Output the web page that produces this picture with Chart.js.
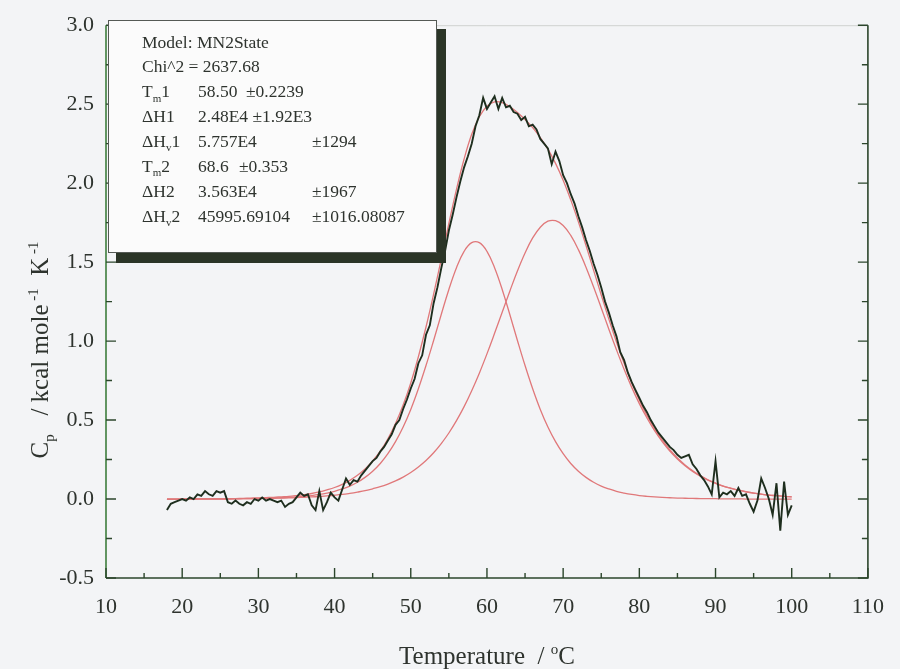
<!DOCTYPE html>
<html>
<head>
<meta charset="utf-8">
<title>MN2State fit</title>
<script src="https://cdn.jsdelivr.net/npm/chart.js@4.4.1/dist/chart.umd.min.js"></script>
<style>
  html, body { margin: 0; padding: 0; background: #f3f4f6; }
  #wrap { width: 900px; height: 669px; }
</style>
</head>
<body>
<div id="wrap"><canvas id="dscChart" width="900" height="669"></canvas></div>
<script>
// Measured scan, 0.5 degree steps
const scanTemps = [
  18, 18.5, 19, 19.5, 20, 20.5, 21, 21.5, 22, 22.5,
  23, 23.5, 24, 24.5, 25, 25.5, 26, 26.5, 27, 27.5,
  28, 28.5, 29, 29.5, 30, 30.5, 31, 31.5, 32, 32.5,
  33, 33.5, 34, 34.5, 35, 35.5, 36, 36.5, 37, 37.5,
  38, 38.5, 39, 39.5, 40, 40.5, 41, 41.5, 42, 42.5,
  43, 43.5, 44, 44.5, 45, 45.5, 46, 46.5, 47, 47.5,
  48, 48.5, 49, 49.5, 50, 50.5, 51, 51.5, 52, 52.5,
  53, 53.5, 54, 54.5, 55, 55.5, 56, 56.5, 57, 57.5,
  58, 58.5, 59, 59.5, 60, 60.5, 61, 61.5, 62, 62.5,
  63, 63.5, 64, 64.5, 65, 65.5, 66, 66.5, 67, 67.5,
  68, 68.5, 69, 69.5, 70, 70.5, 71, 71.5, 72, 72.5,
  73, 73.5, 74, 74.5, 75, 75.5, 76, 76.5, 77, 77.5,
  78, 78.5, 79, 79.5, 80, 80.5, 81, 81.5, 82, 82.5,
  83, 83.5, 84, 84.5, 85, 85.5, 86, 86.5, 87, 87.5,
  88, 88.5, 89, 89.5, 90, 90.5, 91, 91.5, 92, 92.5,
  93, 93.5, 94, 94.5, 95, 95.5, 96, 96.5, 97, 97.5,
  98, 98.5, 99, 99.5, 100
];
const scanCp = [
  -0.07, -0.03, -0.02, -0.01, 0.00, -0.01, 0.01, 0.00, 0.03, 0.02,
  0.05, 0.03, 0.02, 0.05, 0.04, 0.05, -0.02, -0.03, -0.01, -0.03,
  -0.04, -0.02, -0.03, 0.00, -0.01, 0.01, -0.01, 0.00, -0.01, -0.02,
  -0.01, -0.05, -0.03, -0.02, 0.01, 0.04, 0.02, 0.03, -0.04, -0.07,
  0.05, -0.07, -0.02, 0.04, 0.01, -0.01, 0.06, 0.13, 0.09, 0.12,
  0.11, 0.15, 0.18, 0.21, 0.24, 0.26, 0.30, 0.33, 0.37, 0.41,
  0.47, 0.50, 0.57, 0.63, 0.70, 0.76, 0.86, 0.91, 1.04, 1.10,
  1.24, 1.34, 1.46, 1.57, 1.70, 1.80, 1.91, 2.01, 2.10, 2.17,
  2.25, 2.36, 2.43, 2.54, 2.47, 2.51, 2.55, 2.47, 2.54, 2.48,
  2.49, 2.45, 2.44, 2.40, 2.42, 2.36, 2.37, 2.34, 2.28, 2.25,
  2.22, 2.12, 2.20, 2.14, 2.05, 2.00, 1.93, 1.87, 1.79, 1.72,
  1.64, 1.57, 1.49, 1.42, 1.34, 1.25, 1.18, 1.10, 1.03, 0.93,
  0.88, 0.80, 0.74, 0.69, 0.64, 0.59, 0.55, 0.50, 0.46, 0.42,
  0.39, 0.36, 0.33, 0.31, 0.28, 0.26, 0.27, 0.28, 0.22, 0.19,
  0.15, 0.12, 0.08, 0.03, 0.24, 0.01, 0.04, 0.03, 0.05, 0.02,
  0.07, 0.02, 0.03, -0.03, -0.08, -0.01, 0.13, 0.07, 0.00, -0.10,
  0.10, -0.20, 0.11, -0.10, -0.04
];

// Fitted curves, 1 degree steps
const fitTemps = [
  18, 19, 20, 21, 22, 23, 24, 25, 26, 27,
  28, 29, 30, 31, 32, 33, 34, 35, 36, 37,
  38, 39, 40, 41, 42, 43, 44, 45, 46, 47,
  48, 49, 50, 51, 52, 53, 54, 55, 56, 57,
  58, 59, 60, 61, 62, 63, 64, 65, 66, 67,
  68, 69, 70, 71, 72, 73, 74, 75, 76, 77,
  78, 79, 80, 81, 82, 83, 84, 85, 86, 87,
  88, 89, 90, 91, 92, 93, 94, 95, 96, 97,
  98, 99, 100
];
const fitTotal = [
  0, 0, 0, 0, 0.001, 0.001, 0.001, 0.001, 0.001, 0.003,
  0.004, 0.006, 0.007, 0.009, 0.011, 0.014, 0.017, 0.022, 0.028, 0.035,
  0.045, 0.058, 0.073, 0.093, 0.118, 0.150, 0.190, 0.241, 0.303, 0.382,
  0.478, 0.595, 0.735, 0.901, 1.089, 1.297, 1.519, 1.745, 1.961, 2.153,
  2.309, 2.420, 2.487, 2.514, 2.510, 2.484, 2.448, 2.403, 2.351, 2.288,
  2.215, 2.125, 2.019, 1.894, 1.755, 1.605, 1.448, 1.292, 1.139, 0.994,
  0.859, 0.736, 0.626, 0.530, 0.446, 0.374, 0.312, 0.260, 0.216, 0.179,
  0.148, 0.122, 0.101, 0.082, 0.069, 0.057, 0.046, 0.038, 0.031, 0.025,
  0.021, 0.017, 0.014
];
const fitPeak1 = [
  0, 0, 0, 0, 0, 0, 0, 0, 0, 0.001,
  0.002, 0.003, 0.004, 0.005, 0.006, 0.008, 0.010, 0.013, 0.017, 0.022,
  0.029, 0.038, 0.049, 0.064, 0.082, 0.106, 0.137, 0.176, 0.225, 0.287,
  0.363, 0.456, 0.567, 0.698, 0.845, 1.004, 1.168, 1.327, 1.465, 1.568,
  1.623, 1.623, 1.568, 1.465, 1.327, 1.168, 1.004, 0.845, 0.698, 0.567,
  0.456, 0.363, 0.287, 0.225, 0.176, 0.137, 0.106, 0.082, 0.064, 0.049,
  0.038, 0.029, 0.022, 0.017, 0.013, 0.010, 0.008, 0.006, 0.005, 0.004,
  0.003, 0.002, 0.002, 0.001, 0.001, 0.001, 0, 0, 0, 0,
  0, 0, 0
];
const fitPeak2 = [
  0, 0, 0, 0, 0.001, 0.001, 0.001, 0.001, 0.001, 0.002,
  0.002, 0.003, 0.003, 0.004, 0.005, 0.006, 0.007, 0.009, 0.011, 0.013,
  0.016, 0.020, 0.024, 0.029, 0.036, 0.044, 0.053, 0.065, 0.078, 0.095,
  0.115, 0.139, 0.168, 0.203, 0.244, 0.293, 0.351, 0.418, 0.496, 0.585,
  0.686, 0.797, 0.919, 1.049, 1.183, 1.316, 1.444, 1.558, 1.653, 1.721,
  1.759, 1.762, 1.732, 1.669, 1.579, 1.468, 1.342, 1.210, 1.075, 0.945,
  0.821, 0.707, 0.604, 0.513, 0.433, 0.364, 0.304, 0.254, 0.211, 0.175,
  0.145, 0.120, 0.099, 0.081, 0.068, 0.056, 0.046, 0.038, 0.031, 0.025,
  0.021, 0.017, 0.014
];

// Axis ticks
const tempTicks = [10, 20, 30, 40, 50, 60, 70, 80, 90, 100, 110];
const tempMinorTicks = [15, 25, 35, 45, 55, 65, 75, 85, 95, 105];
const cpTicks = [-0.5, 0.0, 0.5, 1.0, 1.5, 2.0, 2.5, 3.0];
const cpMinorTicks = [-0.25, 0.25, 0.75, 1.25, 1.75, 2.25, 2.75];

// Fit report lines: [label, subscript, label tail, value, error, error x]
const fitReport = [
  ["Model: MN2State", "", "", "", "", 0],
  ["Chi^2 = 2637.68", "", "", "", "", 0],
  ["T", "m", "1", "58.50", "\u00b10.2239", 246],
  ["\u0394H1", "", "", "2.48E4 \u00b11.92E3", "", 0],
  ["\u0394H", "v", "1", "5.757E4", "\u00b11294", 312],
  ["T", "m", "2", "68.6", "\u00b10.353", 239],
  ["\u0394H2", "", "", "3.563E4", "\u00b11967", 312],
  ["\u0394H", "v", "2", "45995.69104", "\u00b11016.08087", 312]
];

const serif = "'Liberation Serif', 'Times New Roman', serif";
const axisColor = "#2c462c";
const textColor = "#2e332e";

function toPoints(xs, ys) {
  return xs.map((t, i) => ({ x: t, y: ys[i] }));
}

// Frame with inward ticks on left, right and bottom
const frameTicks = {
  id: "frameTicks",
  afterDatasetsDraw(chart) {
    const { ctx, chartArea: a, scales: { x, y } } = chart;
    ctx.save();
    ctx.lineCap = "butt";

    ctx.strokeStyle = "#cfd2cf";
    ctx.lineWidth = 1;
    ctx.beginPath();
    ctx.moveTo(a.left, a.top + 0.5);
    ctx.lineTo(a.right, a.top + 0.5);
    ctx.stroke();

    ctx.lineWidth = 1.6;
    ctx.strokeStyle = "#3d7d3d";
    ctx.beginPath();
    ctx.moveTo(a.left, a.top);
    ctx.lineTo(a.left, a.bottom);
    ctx.stroke();

    ctx.strokeStyle = axisColor;
    ctx.beginPath();
    ctx.moveTo(a.left, a.bottom);
    ctx.lineTo(a.right, a.bottom);
    ctx.lineTo(a.right, a.top);
    ctx.stroke();

    ctx.lineWidth = 1.4;
    ctx.beginPath();
    tempTicks.forEach(t => {
      const px = x.getPixelForValue(t);
      ctx.moveTo(px, a.bottom);
      ctx.lineTo(px, a.bottom - 10);
    });
    tempMinorTicks.forEach(t => {
      const px = x.getPixelForValue(t);
      ctx.moveTo(px, a.bottom);
      ctx.lineTo(px, a.bottom - 5);
    });
    cpTicks.forEach(v => {
      const py = y.getPixelForValue(v);
      ctx.moveTo(a.left, py);
      ctx.lineTo(a.left + 10, py);
      ctx.moveTo(a.right, py);
      ctx.lineTo(a.right - 10, py);
    });
    cpMinorTicks.forEach(v => {
      const py = y.getPixelForValue(v);
      ctx.moveTo(a.left, py);
      ctx.lineTo(a.left + 6, py);
      ctx.moveTo(a.right, py);
      ctx.lineTo(a.right - 6, py);
    });
    ctx.stroke();
    ctx.restore();
  }
};

// Fit parameter box with a heavy drop shadow
const reportBox = {
  id: "reportBox",
  afterDraw(chart) {
    const ctx = chart.ctx;
    const left = 108, top = 20, right = 437, bottom = 253;
    ctx.save();
    ctx.fillStyle = "#2b3527";
    ctx.fillRect(right, top + 9, 9, bottom - top + 1);
    ctx.fillRect(left + 8, bottom, right - left + 1, 10);
    ctx.fillStyle = "#fbfbfb";
    ctx.fillRect(left, top, right - left, bottom - top);
    ctx.strokeStyle = "#555a55";
    ctx.lineWidth = 1;
    ctx.strokeRect(left + 0.5, top + 0.5, right - left - 1, bottom - top - 1);

    ctx.fillStyle = textColor;
    ctx.textBaseline = "middle";
    const big = "17.5px " + serif;
    const small = "11px " + serif;
    fitReport.forEach((row, i) => {
      const [label, sub, tail, value, err, errX] = row;
      const cy = 43 + i * 24.9;
      let px = 142;
      ctx.font = big;
      ctx.fillText(label, px, cy);
      px += ctx.measureText(label).width;
      if (sub) {
        ctx.font = small;
        ctx.fillText(sub, px, cy + 6);
        px += ctx.measureText(sub).width;
        ctx.font = big;
        ctx.fillText(tail, px, cy);
      }
      ctx.font = big;
      if (value) ctx.fillText(value, 198, cy);
      if (err) ctx.fillText(err, errX, cy);
    });
    ctx.restore();
  }
};

// Axis titles with sub- and superscripts
const axisTitles = {
  id: "axisTitles",
  afterDraw(chart) {
    const ctx = chart.ctx;
    const a = chart.chartArea;
    const big = "25px " + serif;
    const small = "15px " + serif;
    ctx.save();
    ctx.fillStyle = textColor;
    ctx.textBaseline = "alphabetic";

    // y title: C_p / kcal mole^-1 K^-1
    const yParts = [
      ["C", big, 0], ["p", small, 6], ["   / kcal mole", big, 0],
      [" -1", small, -10], ["  K", big, 0], [" -1", small, -10]
    ];
    let total = 0;
    yParts.forEach(p => { ctx.font = p[1]; total += ctx.measureText(p[0]).width; });
    ctx.translate(48, 350);
    ctx.rotate(-Math.PI / 2);
    let px = -total / 2;
    yParts.forEach(p => {
      ctx.font = p[1];
      ctx.fillText(p[0], px, p[2]);
      px += ctx.measureText(p[0]).width;
    });
    ctx.setTransform(1, 0, 0, 1, 0, 0);

    // x title: Temperature / oC
    const xParts = [["Temperature  / ", big, 0], ["o", small, -10], ["C", big, 0]];
    total = 0;
    xParts.forEach(p => { ctx.font = p[1]; total += ctx.measureText(p[0]).width; });
    px = (a.left + a.right) / 2 - total / 2;
    xParts.forEach(p => {
      ctx.font = p[1];
      ctx.fillText(p[0], px, 664 + p[2]);
      px += ctx.measureText(p[0]).width;
    });
    ctx.restore();
  }
};

const chart = new Chart(document.getElementById("dscChart"), {
  type: "line",
  data: {
    datasets: [
      {
        label: "scan",
        data: toPoints(scanTemps, scanCp),
        borderColor: "#1e2e1e",
        borderWidth: 1.9,
        pointRadius: 0,
        tension: 0,
        order: 0
      },
      {
        label: "fit",
        data: toPoints(fitTemps, fitTotal),
        borderColor: "#e0787a",
        borderWidth: 1.3,
        pointRadius: 0,
        tension: 0.4,
        order: 1
      },
      {
        label: "peak 1",
        data: toPoints(fitTemps, fitPeak1),
        borderColor: "#e0787a",
        borderWidth: 1.3,
        pointRadius: 0,
        tension: 0.4,
        order: 2
      },
      {
        label: "peak 2",
        data: toPoints(fitTemps, fitPeak2),
        borderColor: "#e0787a",
        borderWidth: 1.3,
        pointRadius: 0,
        tension: 0.4,
        order: 3
      }
    ]
  },
  options: {
    responsive: false,
    animation: false,
    events: [],
    layout: { padding: { left: 0, top: 20, right: 20, bottom: 0 } },
    plugins: {
      legend: { display: false },
      tooltip: { enabled: false }
    },
    scales: {
      x: {
        type: "linear",
        min: 10,
        max: 110,
        afterBuildTicks: s => { s.ticks = tempTicks.map(v => ({ value: v })); },
        afterFit: s => { s.height = 91; },
        grid: { display: false, drawTicks: false },
        border: { display: false },
        ticks: {
          padding: 16,
          color: textColor,
          font: { family: serif, size: 22 },
          callback: v => String(v)
        }
      },
      y: {
        type: "linear",
        min: -0.5,
        max: 3.0,
        afterBuildTicks: s => { s.ticks = cpTicks.map(v => ({ value: v })); },
        afterFit: s => { s.width = 106; },
        grid: { display: false, drawTicks: false },
        border: { display: false },
        ticks: {
          padding: 12,
          color: textColor,
          font: { family: serif, size: 22 },
          callback: v => v.toFixed(1)
        }
      }
    }
  },
  plugins: [frameTicks, reportBox, axisTitles]
});
</script>
</body>
</html>
